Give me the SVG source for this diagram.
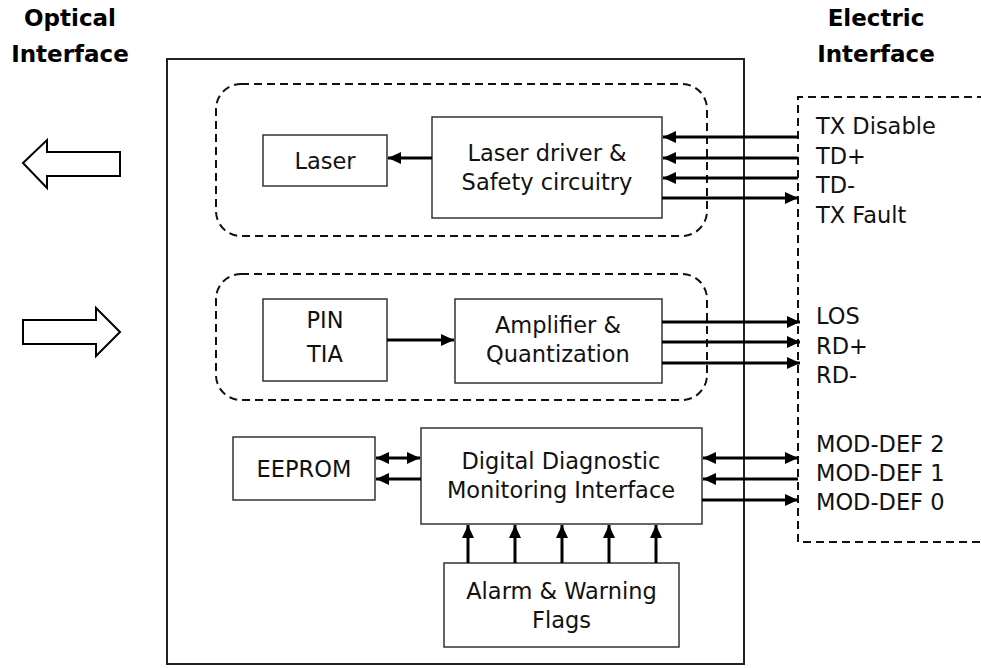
<svg xmlns="http://www.w3.org/2000/svg" width="981" height="668" viewBox="0 0 981 668">
<defs>
<marker id="ah" markerUnits="userSpaceOnUse" markerWidth="14" markerHeight="13" refX="13" refY="6.5" orient="auto-start-reverse">
<path d="M0,0.5 L13,6.5 L0,12.5 Z" fill="#000"/>
</marker>
<style>
.box{fill:#fff;stroke:#333;stroke-width:1.5}
.outer{fill:none;stroke:#222;stroke-width:2}
.dash{fill:none;stroke:#111;stroke-width:2;stroke-dasharray:8 5}
.t{font-family:"DejaVu Sans","Verdana",sans-serif;font-size:22.5px;fill:#111;text-anchor:middle}
.l{font-family:"DejaVu Sans","Verdana",sans-serif;font-size:22.5px;fill:#111}
.h{font-family:"DejaVu Sans","Verdana",sans-serif;font-size:23px;font-weight:bold;fill:#000;text-anchor:middle}
.c{stroke:#000;stroke-width:3;fill:none}
.big{fill:#fff;stroke:#000;stroke-width:2}
</style>
</defs>
<g id="titles">
<text class="h" x="70" y="26">Optical</text>
<text class="h" x="70" y="62">Interface</text>
<text class="h" x="876" y="26">Electric</text>
<text class="h" x="876" y="62">Interface</text>
</g>
<g id="optical-arrows">
<polygon class="big" points="23,163 47,140 47,152 120,152 120,176 47,176 47,188"/>
<polygon class="big" points="23,320 96,320 96,308 120,332 96,356 96,344 23,344"/>
</g>
<g id="module"><rect class="outer" x="167" y="59" width="577" height="605"/></g>
<g id="tx-group"><rect class="dash" x="216" y="84" width="491" height="152" rx="25"/></g>
<g id="rx-group"><rect class="dash" x="216" y="274" width="491" height="126" rx="25"/></g>
<g id="electric-interface"><path class="dash" d="M985 97 H798 V542 H985"/>
<text class="l" x="816" y="134">TX Disable</text>
<text class="l" x="816" y="163.5">TD+</text>
<text class="l" x="816" y="193">TD-</text>
<text class="l" x="816" y="222.5">TX Fault</text>
<text class="l" x="816" y="324">LOS</text>
<text class="l" x="816" y="354">RD+</text>
<text class="l" x="816" y="383">RD-</text>
<text class="l" x="816" y="452">MOD-DEF 2</text>
<text class="l" x="816" y="481">MOD-DEF 1</text>
<text class="l" x="816" y="510">MOD-DEF 0</text>
</g>
<g id="laser"><rect class="box" x="263" y="135" width="124" height="51"/><text class="t" x="325" y="169">Laser</text></g>
<g id="laser-driver"><rect class="box" x="432" y="117" width="230" height="101"/><text class="t" x="547" y="161">Laser driver &amp;</text><text class="t" x="547" y="190">Safety circuitry</text></g>
<g id="pin-tia"><rect class="box" x="263" y="299" width="124" height="82"/><text class="t" x="325" y="328">PIN</text><text class="t" x="325" y="362">TIA</text></g>
<g id="amplifier"><rect class="box" x="455" y="299" width="207" height="84"/><text class="t" x="558" y="333">Amplifier &amp;</text><text class="t" x="558" y="362">Quantization</text></g>
<g id="eeprom"><rect class="box" x="233" y="437" width="142" height="63"/><text class="t" x="304" y="477">EEPROM</text></g>
<g id="ddm"><rect class="box" x="421" y="428" width="281" height="96"/><text class="t" x="561" y="469">Digital Diagnostic</text><text class="t" x="561" y="498">Monitoring Interface</text></g>
<g id="alarm"><rect class="box" x="444" y="563" width="235" height="84"/><text class="t" x="561.5" y="599">Alarm &amp; Warning</text><text class="t" x="561.5" y="628">Flags</text></g>
<g id="connectors">
<line class="c" x1="798" y1="137" x2="663" y2="137" marker-end="url(#ah)"/>
<line class="c" x1="798" y1="158" x2="663" y2="158" marker-end="url(#ah)"/>
<line class="c" x1="798" y1="178" x2="663" y2="178" marker-end="url(#ah)"/>
<line class="c" x1="662" y1="198" x2="798" y2="198" marker-end="url(#ah)"/>
<line class="c" x1="432" y1="158" x2="388" y2="158" marker-end="url(#ah)"/>
<line class="c" x1="387" y1="340" x2="454" y2="340" marker-end="url(#ah)"/>
<line class="c" x1="662" y1="322" x2="800" y2="322" marker-end="url(#ah)"/>
<line class="c" x1="662" y1="342" x2="800" y2="342" marker-end="url(#ah)"/>
<line class="c" x1="662" y1="363" x2="800" y2="363" marker-end="url(#ah)"/>
<line class="c" x1="376" y1="458" x2="420" y2="458" marker-start="url(#ah)" marker-end="url(#ah)"/>
<line class="c" x1="421" y1="479" x2="376" y2="479" marker-end="url(#ah)"/>
<line class="c" x1="703" y1="458" x2="798" y2="458" marker-start="url(#ah)" marker-end="url(#ah)"/>
<line class="c" x1="798" y1="479" x2="703" y2="479" marker-end="url(#ah)"/>
<line class="c" x1="702" y1="500" x2="798" y2="500" marker-end="url(#ah)"/>
<line class="c" x1="468" y1="563" x2="468" y2="525" marker-end="url(#ah)"/>
<line class="c" x1="515" y1="563" x2="515" y2="525" marker-end="url(#ah)"/>
<line class="c" x1="562" y1="563" x2="562" y2="525" marker-end="url(#ah)"/>
<line class="c" x1="609" y1="563" x2="609" y2="525" marker-end="url(#ah)"/>
<line class="c" x1="656" y1="563" x2="656" y2="525" marker-end="url(#ah)"/>
</g>
</svg>
